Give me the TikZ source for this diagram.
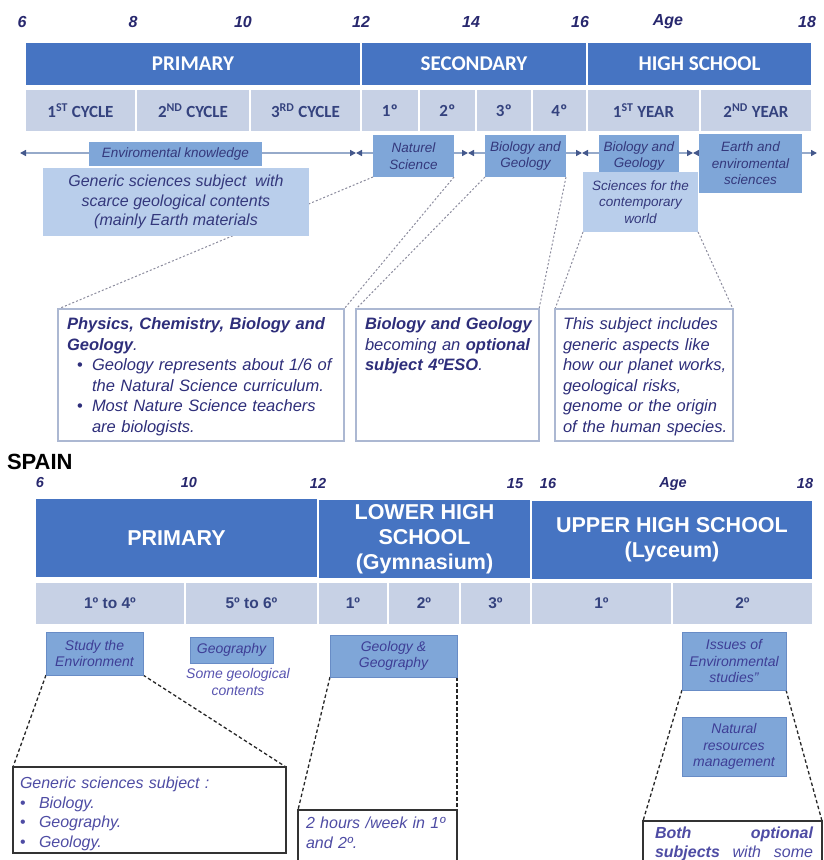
\documentclass[tikz,border=0pt]{standalone}
\usepackage{fontspec}
\setmainfont{Liberation Sans}
\newfontfamily\calib{Carlito}
\usetikzlibrary{arrows.meta}
\pgfdeclarelayer{bg}
\pgfsetlayers{bg,main}

\definecolor{darkbar}{RGB}{70,116,194}
\definecolor{lightbar}{RGB}{199,209,229}
\definecolor{celltext}{RGB}{52,66,126}
\definecolor{medbox}{RGB}{127,166,216}
\definecolor{medborder}{RGB}{104,140,198}
\definecolor{lightbox}{RGB}{185,206,235}
\definecolor{boxtext}{RGB}{52,56,124}
\definecolor{bottext}{RGB}{62,62,150}
\definecolor{agecol}{RGB}{40,40,110}
\definecolor{calltext}{RGB}{46,46,122}
\definecolor{callborder}{RGB}{172,184,210}
\definecolor{dashgray}{RGB}{140,140,158}
\definecolor{tlline}{RGB}{150,170,202}
\definecolor{tlhead}{RGB}{68,88,140}
\definecolor{purpletext}{RGB}{88,84,176}
\definecolor{calltextb}{RGB}{78,76,164}

\tikzset{
  every node/.style={inner sep=0pt, outer sep=0pt},
  agetop/.style={font=\bfseries\itshape\fontsize{16}{16}\selectfont, text=agecol},
  agebot/.style={font=\bfseries\itshape\fontsize{14.5}{14.5}\selectfont, text=agecol},
  hdtop/.style={fill=darkbar, draw=white, line width=1.2pt, text=white,
    font=\calib\bfseries\fontsize{21}{21}\selectfont},
  hdbot/.style={fill=darkbar, draw=white, line width=1.2pt, text=white, align=center,
    font=\bfseries\fontsize{21.5}{25}\selectfont},
  celltop/.style={fill=lightbar, draw=white, line width=1.5pt, text=celltext,
    font=\calib\bfseries\fontsize{17}{17}\selectfont},
  cellbot/.style={fill=lightbar, draw=white, line width=1.5pt, text=celltext,
    font=\bfseries\fontsize{15.5}{15.5}\selectfont},
  medtop/.style={fill=medbox, text=boxtext, align=center,
    font=\itshape\fontsize{13.5}{16.5}\selectfont},
  lighttop/.style={fill=lightbox, text=boxtext, align=center,
    font=\itshape\fontsize{13.5}{16.5}\selectfont},
  medbot/.style={fill=medbox, draw=medborder, line width=0.8pt, text=bottext, align=center,
    font=\itshape\fontsize{14}{16.5}\selectfont},
  calltop/.style={draw=callborder, line width=1.2pt, fill=white},
  callbot/.style={draw=black!80, line width=1.3pt, fill=white},
  calltxt/.style={anchor=north west, align=left, text=calltext,
    font=\itshape\fontsize{16.5}{20.5}\selectfont},
  calltxtb/.style={anchor=north west, align=left, text=calltextb,
    font=\itshape\fontsize{16}{19.5}\selectfont},
  tlseg/.style={draw=tlline, line width=1.6pt,
    {Triangle[length=6pt,width=6pt,color=tlhead]}-{Triangle[length=6pt,width=6pt,color=tlhead]}},
  dasht/.style={draw=dashgray, line width=1pt, dash pattern=on 2pt off 2pt},
  dashb/.style={draw=black!85, line width=1.3pt, dash pattern=on 3.5pt off 2.5pt},
}

\begin{document}
\begin{tikzpicture}[x=1pt,y=-1pt]
\useasboundingbox (0,0) rectangle (823,860);
\clip (0,0) rectangle (823,860);

% ---------- first scheme: ages ----------
\node[agetop] (a6)  at (22,22)  {6};
\node[agetop] (a8)  at (133,22) {8};
\node[agetop] (a10) at (243,22) {10};
\node[agetop] (a12) at (361,22) {12};
\node[agetop] (a14) at (471,22) {14};
\node[agetop] (a16) at (580,22) {16};
\node[agetop] (aage) at (668,22) {Age};
\node[agetop] (a18) at (807,22) {18};

% stages
\node[hdtop, minimum width=336, minimum height=44] (pri1) at (193,64)   {PRIMARY};
\node[hdtop, minimum width=226, minimum height=44] (sec1) at (474,64)   {SECONDARY};
\node[hdtop, minimum width=225, minimum height=44] (hs1)  at (699.5,64) {HIGH SCHOOL};

% courses
\node[celltop, minimum width=111, minimum height=43] (c1) at (80.5,110.5)  {1\textsuperscript{ST} CYCLE};
\node[celltop, minimum width=114, minimum height=43] (c2) at (193,110.5)   {2\textsuperscript{ND} CYCLE};
\node[celltop, minimum width=111, minimum height=43] (c3) at (305.5,110.5) {3\textsuperscript{RD} CYCLE};
\node[celltop, minimum width=58,  minimum height=43] (s1) at (390,110.5)   {1º};
\node[celltop, minimum width=57,  minimum height=43] (s2) at (447.5,110.5) {2º};
\node[celltop, minimum width=56,  minimum height=43] (s3) at (504,110.5)   {3º};
\node[celltop, minimum width=55,  minimum height=43] (s4) at (559.5,110.5) {4º};
\node[celltop, minimum width=113, minimum height=43] (h1) at (643.5,110.5) {1\textsuperscript{ST} YEAR};
\node[celltop, minimum width=112, minimum height=43] (h2) at (756,110.5)   {2\textsuperscript{ND} YEAR};

% subjects
\node[medtop, minimum width=173, minimum height=24] (envk) at (175.5,154) {Enviromental knowledge};
\node[lighttop, minimum width=266, minimum height=68,
      font=\itshape\fontsize{16}{19.5}\selectfont] (gensci) at (176,202)
      {Generic sciences subject\ \ with\\scarce geological contents\\(mainly Earth materials};
\node[medtop, minimum width=81, minimum height=42] (natsci) at (413.5,156) {Naturel\\Science};
\node[medtop, minimum width=81, minimum height=42] (bio1) at (525.5,156) {Biology and\\Geology};
\node[medtop, minimum width=80, minimum height=42] (bio2) at (639,156) {Biology and\\Geology};
\node[lighttop, minimum width=115, minimum height=60] (contemp) at (640.5,202) {Sciences for the\\contemporary\\world};
\node[medtop, minimum width=103, minimum height=59] (earth) at (750.5,163.5) {Earth and\\enviromental\\sciences};

% timeline stops
\coordinate (t0) at (20,153);
\coordinate (t1) at (356,153);
\coordinate (t2) at (468,153);
\coordinate (t3) at (582,153);
\coordinate (t4) at (693,153);
\coordinate (t5) at (817,153);

% notes
\node[calltop, minimum width=286, minimum height=132] (box1) at (201,375) {};
\node[calltop, minimum width=183, minimum height=132] (box2) at (447.5,375) {};
\node[calltop, minimum width=178, minimum height=132] (box3) at (644,375) {};

\node[calltxt, text width=272] (box1t) at (67,318) {%
\textbf{Physics, Chemistry, Biology and}\\
\textbf{Geology}.\\
\hspace*{10pt}\makebox[15pt][l]{\upshape•}Geology represents about 1/6 of\\
\hspace*{25pt}the Natural Science curriculum.\\
\hspace*{10pt}\makebox[15pt][l]{\upshape•}Most Nature Science teachers\\
\hspace*{25pt}are biologists.};
\node[calltxt, text width=175] (box2t) at (365,318) {%
\textbf{Biology and Geology}\\
becoming an \textbf{optional}\\
\textbf{subject 4ºESO}.};
\node[calltxt, text width=172] (box3t) at (563,318) {%
This subject includes\\
generic aspects like\\
how our planet works,\\
geological risks,\\
genome or the origin\\
of the human species.};

% ---------- second scheme ----------
\node[anchor=west, font=\bfseries\fontsize{22}{22}\selectfont] (spain) at (7,462) {SPAIN};

\node[agebot] (b6)  at (40,483)  {6};
\node[agebot] (b10) at (189,483) {10};
\node[agebot] (b12) at (318,483) {12};
\node[agebot] (b15) at (515,484) {15};
\node[agebot] (b16) at (548,484) {16};
\node[agebot] (bage) at (673,484) {Age};
\node[agebot] (b18) at (805,484) {18};

\node[hdbot, minimum width=283, minimum height=80] (pri2) at (176.5,538) {PRIMARY};
\node[hdbot, minimum width=213, minimum height=80] (lhs) at (424.5,539) {LOWER HIGH\\SCHOOL\\(Gymnasium)};
\node[hdbot, minimum width=282, minimum height=80] (uhs) at (672,540) {UPPER HIGH SCHOOL\\(Lyceum)};

\node[cellbot, minimum width=150, minimum height=43] (d1) at (110,603.5)   {1º to 4º};
\node[cellbot, minimum width=133, minimum height=43] (d2) at (251.5,603.5) {5º to 6º};
\node[cellbot, minimum width=70,  minimum height=43] (d3) at (353,603.5)   {1º};
\node[cellbot, minimum width=72,  minimum height=43] (d4) at (424,603.5)   {2º};
\node[cellbot, minimum width=71,  minimum height=43] (d5) at (495.5,603.5) {3º};
\node[cellbot, minimum width=141, minimum height=43] (d6) at (601.5,603.5) {1º};
\node[cellbot, minimum width=141, minimum height=43] (d7) at (742.5,603.5) {2º};

\node[medbot, minimum width=97,  minimum height=43] (study)  at (94.5,653.5) {Study the\\Environment};
\node[medbot, minimum width=83,  minimum height=26] (geog)   at (231.5,650)  {Geography};
\node[text=purpletext, align=center, font=\itshape\fontsize{14}{17}\selectfont] (somegeo) at (238,682) {Some geological\\contents};
\node[medbot, minimum width=127, minimum height=42] (geogeo) at (393.5,656)  {Geology \&\\Geography};
\node[medbot, minimum width=104, minimum height=58] (issues) at (734,661)    {Issues of\\Environmental\\studies”};
\node[medbot, minimum width=104, minimum height=59] (natres) at (734,746.5)  {Natural\\resources\\management};

\node[callbot, minimum width=273, minimum height=86] (boxA) at (149.5,810) {};
\node[callbot, minimum width=159, minimum height=90] (boxB) at (377.5,855) {};
\node[callbot, minimum width=179, minimum height=90] (boxC) at (732.5,866) {};

\node[calltxtb, text width=262] (boxAt) at (20,777) {%
Generic sciences subject :\\
\makebox[19pt][l]{\upshape•}Biology.\\
\makebox[19pt][l]{\upshape•}Geography.\\
\makebox[19pt][l]{\upshape•}Geology.};
\node[calltxtb, text width=150] (boxBt) at (306,817) {%
2 hours /week in 1º\\
and 2º.};
\node[calltxtb, text width=165, font=\itshape\fontsize{16}{18.5}\selectfont] (boxCt) at (655,827) {%
\makebox[158pt][s]{\textbf{Both}\hfill\textbf{optional}}\\
\makebox[158pt][s]{\textbf{subjects}\hfill with\hfill some}};

% ---------- connectors behind the boxes ----------
\begin{pgfonlayer}{bg}
  \fill[white] (0,0) rectangle (823,860);
  \draw[tlseg] (t0) -- (t1);
  \draw[tlseg] (t1) -- (t2);
  \draw[tlseg] (t2) -- (t3);
  \draw[tlseg] (t3) -- (t4);
  \draw[tlseg] (t4) -- (t5);

  \draw[dasht] (natsci.south west) -- (box1.north west);
  \draw[dasht] (natsci.south east) -- (box1.north east);
  \draw[dasht] (bio1.south west) -- (box2.north west);
  \draw[dasht] (bio1.south east) -- (box2.north east);
  \draw[dasht] (contemp.south west) -- (box3.north west);
  \draw[dasht] (contemp.south east) -- (box3.north east);

  \draw[dashb] (study.south west) -- (boxA.north west);
  \draw[dashb] (study.south east) -- (boxA.north east);
  \draw[dashb] (geogeo.south west) -- (boxB.north west);
  \draw[dashb] (geogeo.south east) -- (boxB.north east);
  \draw[dashb] (issues.south west) -- (boxC.north west);
  \draw[dashb] (issues.south east) -- (boxC.north east);
\end{pgfonlayer}
\end{tikzpicture}
\end{document}
